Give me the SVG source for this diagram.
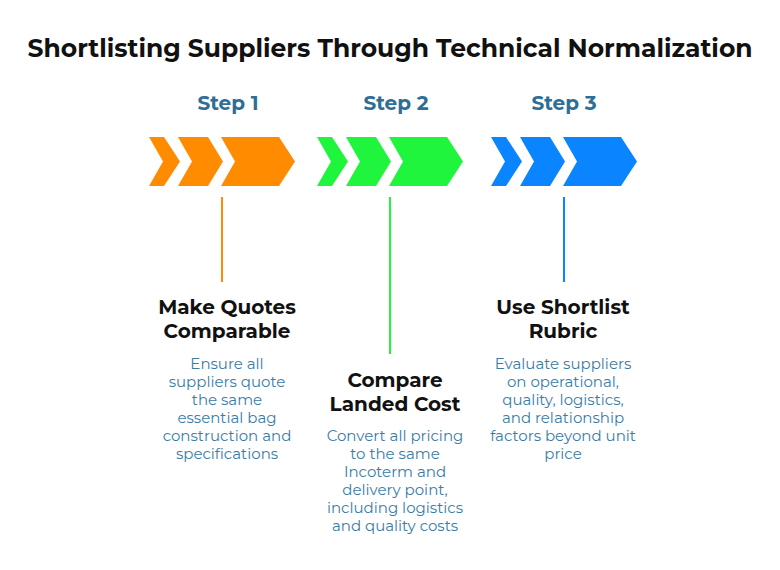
<svg xmlns="http://www.w3.org/2000/svg" width="780" height="570" viewBox="0 0 780 570">
<defs>
<g id="chev">
<polygon points="149,137 164,137 180,161.5 164,186 149,186 163,161.5"/>
<polygon points="178,137 208,137 223,161.5 208,186 178,186 192,161.5"/>
<polygon points="221,137 279,137 295,161.5 279,186 221,186 235,161.5"/>
</g>
</defs>
<style>
text{font-family:Montserrat,"Noto Sans","Liberation Sans",sans-serif;text-anchor:middle}
.t{font-size:25px;font-weight:bold;fill:#111}
.s{font-size:20px;font-weight:bold;fill:#2E6E96}
.h{font-size:20px;font-weight:bold;fill:#111}
.d{font-size:15px;fill:#3A7CA5}
</style>
<rect width="780" height="570" fill="#fff"/>
<text class="t" x="390" y="57">Shortlisting Suppliers Through Technical Normalization</text>
<g id="connectors" stroke-width="2">
<line x1="222" y1="197" x2="222" y2="282" stroke="#FF8C00"/>
<line x1="390" y1="197" x2="390" y2="354" stroke="#1EF53C"/>
<line x1="564" y1="197" x2="564" y2="282" stroke="#0A84FF"/>
</g>
<g id="step1">
<text class="s" x="228" y="110">Step 1</text>
<use href="#chev" fill="#FF8C00"/>
<text class="h" x="227" y="314">Make Quotes</text>
<text class="h" x="227" y="338">Comparable</text>
<text class="d" x="227" y="369">Ensure all</text>
<text class="d" x="227" y="387">suppliers quote</text>
<text class="d" x="227" y="405">the same</text>
<text class="d" x="227" y="423">essential bag</text>
<text class="d" x="227" y="441">construction and</text>
<text class="d" x="227" y="459">specifications</text>
</g>
<g id="step2">
<text class="s" x="396" y="110">Step 2</text>
<use href="#chev" fill="#1EF53C" transform="translate(168,0)"/>
<text class="h" x="395" y="387">Compare</text>
<text class="h" x="395" y="411">Landed Cost</text>
<text class="d" x="395" y="441">Convert all pricing</text>
<text class="d" x="395" y="459">to the same</text>
<text class="d" x="395" y="477">Incoterm and</text>
<text class="d" x="395" y="495">delivery point,</text>
<text class="d" x="395" y="513">including logistics</text>
<text class="d" x="395" y="531">and quality costs</text>
</g>
<g id="step3">
<text class="s" x="564" y="110">Step 3</text>
<use href="#chev" fill="#0A84FF" transform="translate(342,0)"/>
<text class="h" x="563" y="314">Use Shortlist</text>
<text class="h" x="563" y="338">Rubric</text>
<text class="d" x="563" y="369">Evaluate suppliers</text>
<text class="d" x="563" y="387">on operational,</text>
<text class="d" x="563" y="405">quality, logistics,</text>
<text class="d" x="563" y="423">and relationship</text>
<text class="d" x="563" y="441">factors beyond unit</text>
<text class="d" x="563" y="459">price</text>
</g>
</svg>
